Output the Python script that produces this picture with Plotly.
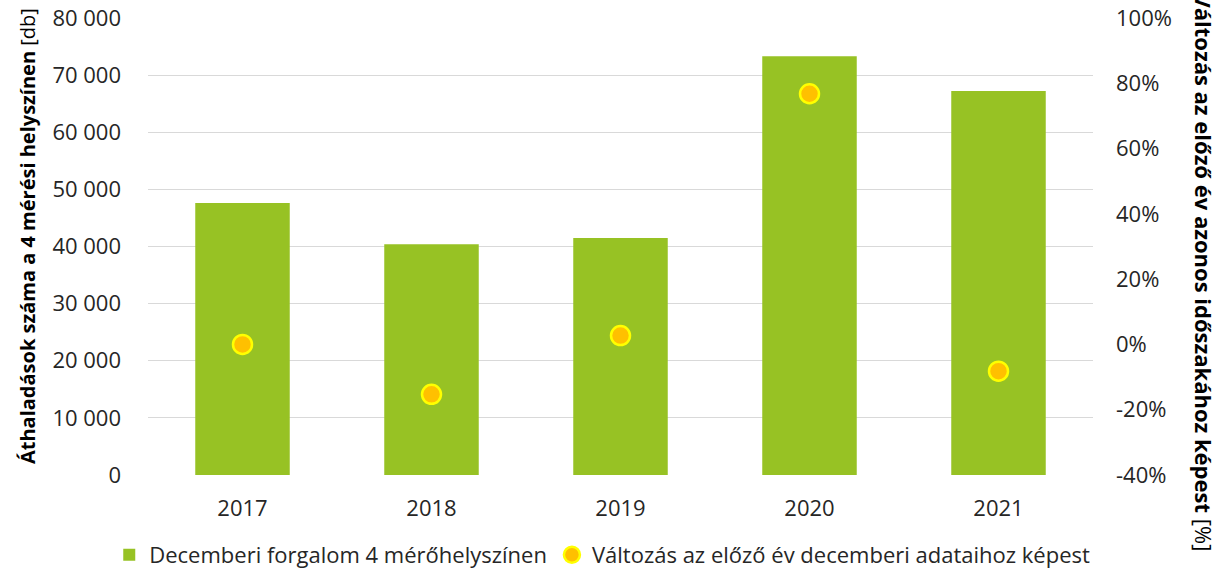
import plotly.graph_objects as go

years = ["2017", "2018", "2019", "2020", "2021"]
traffic = [47600, 40400, 41500, 73300, 67200]
change_pct = [0.0, -15.3, 2.7, 76.8, -8.2]

left_ticks = [0, 10000, 20000, 30000, 40000, 50000, 60000, 70000, 80000]
left_labels = ["0", "10 000", "20 000", "30 000", "40 000", "50 000", "60 000", "70 000", "80 000"]
right_ticks = [-40, -20, 0, 20, 40, 60, 80, 100]
right_labels = ["-40%", "-20%", "0%", "20%", "40%", "60%", "80%", "100%"]

FONT = "Open Sans"
TXT = "#262626"
FS = 22

fig = go.Figure()
fig.add_trace(go.Bar(
    x=years, y=traffic, name="Decemberi forgalom 4 mérőhelyszínen",
    marker=dict(color="#97C224", line=dict(width=0)), yaxis="y",
))
fig.add_trace(go.Scatter(
    x=years, y=change_pct, name="Változás az előző év decemberi adataihoz képest",
    mode="markers", yaxis="y2",
    marker=dict(color="#FFC000", size=19, line=dict(color="#FFFF00", width=2.5)),
))

fig.update_layout(
    width=1217, height=579,
    margin=dict(l=148, r=124, t=18, b=104, autoexpand=False),
    paper_bgcolor="white", plot_bgcolor="white",
    font=dict(family=FONT, size=FS, color=TXT),
    bargap=0.5,
    showlegend=True,
    legend=dict(orientation="h", x=-0.041, xanchor="left", y=-0.175, yanchor="middle",
                font=dict(size=FS, color=TXT), itemwidth=30, traceorder="normal"),
    xaxis=dict(showgrid=False, showline=False, ticks="", ticklabelstandoff=18,
               automargin=False, tickfont=dict(size=FS, color=TXT)),
    yaxis=dict(range=[0, 80000], tickvals=left_ticks, ticktext=left_labels,
               showgrid=True, gridcolor="#D9D9D9", gridwidth=1, zeroline=False,
               showline=False, ticks="", ticklabelstandoff=26, automargin=False,
               tickfont=dict(size=FS, color=TXT)),
    yaxis2=dict(range=[-40, 100], tickvals=right_ticks, ticktext=right_labels,
                overlaying="y", side="right", showgrid=False, zeroline=False,
                showline=False, ticks="", ticklabelstandoff=22, automargin=False,
                tickfont=dict(size=FS, color=TXT)),
    annotations=[
        dict(text="<b>Áthaladások száma a 4 mérési helyszínen</b> [db]",
             xref="paper", yref="paper", x=-0.128, y=(475 - 236) / 457,
             xanchor="center", yanchor="middle", textangle=-90, showarrow=False,
             font=dict(size=20, color="black")),
        dict(text="<b>Változás az előző év azonos időszakához képest</b> [%]",
             xref="paper", yref="paper", x=1.117, y=(475 - 272) / 457,
             xanchor="center", yanchor="middle", textangle=90, showarrow=False,
             font=dict(size=22, color="black")),
    ],
)

fig.write_html("out.html", config={"displayModeBar": False},
               post_script="document.body.style.margin='0';")
